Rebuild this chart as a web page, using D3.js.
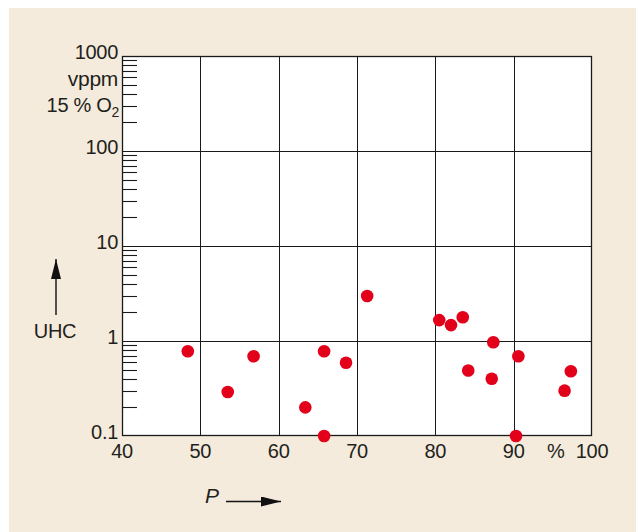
<!DOCTYPE html>
<html>
<head>
<meta charset="utf-8">
<script src="https://cdn.jsdelivr.net/npm/d3@7"></script>
<style>
  html, body { margin: 0; padding: 0; background: #ffffff; }
  svg { display: block; }
  text { font-family: "Liberation Sans", Arial, Helvetica, sans-serif; fill: #231f20; }
</style>
</head>
<body>
<svg id="chart" width="636" height="532"></svg>
<script>
// Unburned hydrocarbons vs. load P
const loadPercent = [48.4, 53.5, 56.8, 63.4, 65.8, 65.8, 68.6, 71.3, 80.5, 82.0, 83.5, 87.4, 90.6, 84.2, 87.2, 97.3, 96.5, 90.3];
const uhcVppm     = [0.78, 0.29, 0.69, 0.20, 0.78, 0.10, 0.59, 2.98, 1.66, 1.47, 1.78, 0.97, 0.69, 0.49, 0.40, 0.48, 0.30, 0.10];

const xTicks = [40, 50, 60, 70, 80, 90, 100];
const xTickLabels = ["40", "50", "60", "70", "80", "90", "100"];
const yTicks = [0.1, 1, 10, 100, 1000];
const yTickLabels = ["0.1", "1", "10", "100", "1000"];

const svg = d3.select("#chart");
const W = 636, H = 532;
const plot = { left: 122, right: 592, top: 56, bottom: 436 };
const FS = 20;

// beige panel
svg.append("rect").attr("x", 9).attr("y", 8).attr("width", W - 9).attr("height", H - 8)
  .attr("fill", "#f5ebdc");

const x = d3.scaleLinear().domain([40, 100]).range([plot.left, plot.right]);
const y = d3.scaleLog().domain([0.1, 1000]).range([plot.bottom, plot.top]);

// plot area
svg.append("rect")
  .attr("x", plot.left).attr("y", plot.top)
  .attr("width", plot.right - plot.left).attr("height", plot.bottom - plot.top)
  .attr("fill", "#ffffff");

const g = svg.append("g");

// grid lines
g.selectAll("line.vgrid").data(xTicks.slice(1, -1)).join("line")
  .attr("x1", d => Math.round(x(d)) + 0.5).attr("x2", d => Math.round(x(d)) + 0.5)
  .attr("y1", plot.top).attr("y2", plot.bottom)
  .attr("stroke", "#1a1a1a").attr("stroke-width", 1);
g.selectAll("line.hgrid").data(yTicks.slice(1, -1)).join("line")
  .attr("y1", d => Math.round(y(d)) + 0.5).attr("y2", d => Math.round(y(d)) + 0.5)
  .attr("x1", plot.left).attr("x2", plot.right)
  .attr("stroke", "#1a1a1a").attr("stroke-width", 1);

// minor log ticks on the left edge, inside the plot
const minor = [];
for (let e = -1; e < 3; e++) for (let m = 2; m <= 9; m++) minor.push(m * Math.pow(10, e));
g.selectAll("line.minor").data(minor).join("line")
  .attr("x1", plot.left).attr("x2", plot.left + 15)
  .attr("y1", d => Math.round(y(d)) + 0.5).attr("y2", d => Math.round(y(d)) + 0.5)
  .attr("stroke", "#1a1a1a").attr("stroke-width", 1.1);

// frame
g.append("rect")
  .attr("x", plot.left + 0.5).attr("y", plot.top + 0.5)
  .attr("width", plot.right - plot.left - 1).attr("height", plot.bottom - plot.top - 1)
  .attr("fill", "none").attr("stroke", "#1a1a1a").attr("stroke-width", 1.3);

// y tick labels
g.selectAll("text.ylab").data(yTicks).join("text")
  .attr("x", plot.left - 4)
  .attr("y", d => y(d) + 3)
  .attr("text-anchor", "end")
  .attr("font-size", FS)
  .attr("letter-spacing", -0.3)
  .text((d, i) => yTickLabels[i]);

// unit label under 1000
g.append("text").attr("x", plot.left - 4).attr("y", 86)
  .attr("text-anchor", "end").attr("font-size", FS + 1).attr("letter-spacing", -0.3)
  .text("vppm");
const o2 = g.append("text").attr("x", plot.left - 3).attr("y", 112)
  .attr("text-anchor", "end").attr("font-size", FS).attr("letter-spacing", -0.3);
o2.append("tspan").text("15 % O");
o2.append("tspan").attr("font-size", 14).attr("dy", 5).text("2");

// x tick labels
g.selectAll("text.xlab").data(xTicks).join("text")
  .attr("x", d => x(d))
  .attr("y", plot.bottom + 22)
  .attr("text-anchor", "middle")
  .attr("font-size", FS)
  .attr("letter-spacing", -0.3)
  .text((d, i) => xTickLabels[i]);
g.append("text").attr("x", 556).attr("y", plot.bottom + 22)
  .attr("text-anchor", "middle").attr("font-size", FS).text("%");

// arrow head marker
const defs = svg.append("defs");
defs.append("marker").attr("id", "arrow")
  .attr("viewBox", "0 0 20 10").attr("refX", 20).attr("refY", 5)
  .attr("markerWidth", 20).attr("markerHeight", 10)
  .attr("markerUnits", "userSpaceOnUse").attr("orient", "auto")
  .append("path").attr("d", "M0,0 L20,5 L0,10 Z").attr("fill", "#111");

// y axis title with upward arrow
g.append("line").attr("x1", 56).attr("x2", 56).attr("y1", 315).attr("y2", 259)
  .attr("stroke", "#111").attr("stroke-width", 1.4).attr("marker-end", "url(#arrow)");
g.append("text").attr("x", 55).attr("y", 338).attr("text-anchor", "middle")
  .attr("font-size", FS).attr("letter-spacing", -0.3).text("UHC");

// x axis title with rightward arrow
g.append("text").attr("x", 212).attr("y", 503).attr("text-anchor", "middle")
  .attr("font-size", 21).attr("font-style", "italic").text("P");
g.append("line").attr("x1", 226).attr("x2", 281).attr("y1", 501.5).attr("y2", 501.5)
  .attr("stroke", "#111").attr("stroke-width", 1.4).attr("marker-end", "url(#arrow)");

// data points
g.selectAll("circle.pt").data(loadPercent).join("circle")
  .attr("cx", d => x(d))
  .attr("cy", (d, i) => y(uhcVppm[i]))
  .attr("r", 6.3)
  .attr("fill", "#e2001a");
</script>
</body>
</html>
